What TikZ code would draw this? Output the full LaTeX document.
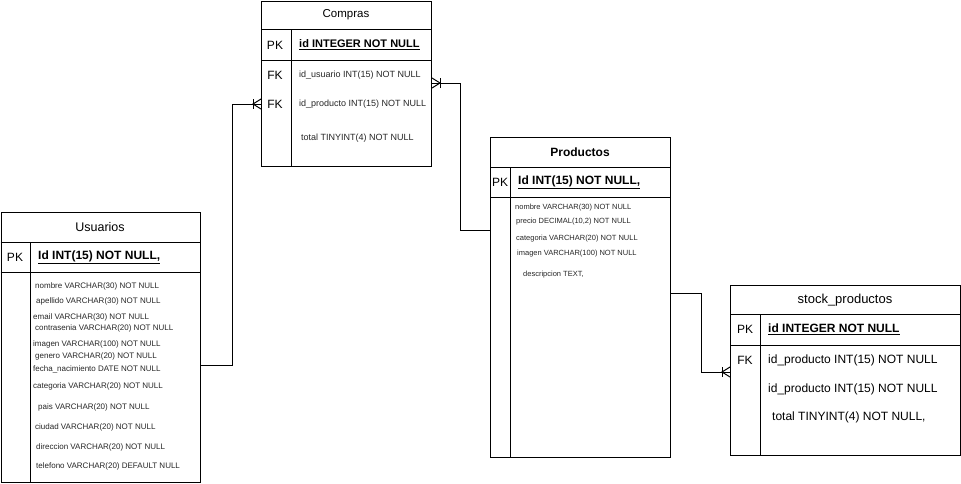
\documentclass[tikz,border=0pt]{standalone}
\usepackage{fontspec}
\setmainfont{Liberation Sans}
\begin{document}
\begin{tikzpicture}[x=1pt,y=-1pt,
  tbl/.style={draw, line width=1pt, rectangle, inner sep=0pt, anchor=north west},
  sep/.style={line width=1pt},
  ttl/.style={font=\fontsize{12}{14}\selectfont\bfseries, inner sep=0pt},
  ttlr/.style={font=\fontsize{#1}{14}\selectfont, inner sep=0pt},
  keyl/.style={font=\fontsize{12}{14}\selectfont, inner sep=0pt},
  pkf/.style={font=\fontsize{#1}{14}\selectfont\bfseries, inner sep=0pt, anchor=west},
  fu/.style={font=\fontsize{8}{9}\selectfont, text=black!85, inner sep=0pt, anchor=west},
  fc/.style={font=\fontsize{9}{10}\selectfont, text=black!85, inner sep=0pt, anchor=west},
  fp/.style={font=\fontsize{7.5}{9}\selectfont, text=black!85, inner sep=0pt, anchor=west},
  fs/.style={font=\fontsize{12}{14}\selectfont, inner sep=0pt, anchor=west},
  conn/.style={line width=1pt},
  many/.pic={\draw[line width=1pt] (0,-5) -- (-8,0) -- (0,5); \draw[line width=1pt] (-8,-5) -- (-8,5);}
]
\useasboundingbox (0,0) rectangle (961,483);

% ---------- Usuarios ----------
\node[tbl, minimum width=199.5pt, minimum height=270pt] (usu) at (0.5,212) {};
\draw[sep] (0.5,242) -- (200,242);
\draw[sep] (0.5,272) -- (200,272);
\draw[sep] (30,242) -- (30,482);
\node[ttlr=12.5] (usuT) at (100,227) {Usuarios};
\node[keyl] (usuPK) at (15,257) {PK};
\node[pkf=12] (usuId) at (38,257) {\underline{Id INT(15) NOT NULL,}};
\node[fu] (u1) at (35,286) {nombre VARCHAR(30) NOT NULL};
\node[fu] (u2) at (36,301) {apellido VARCHAR(30) NOT NULL};
\node[fu] (u3) at (33,317) {email VARCHAR(30) NOT NULL};
\node[fu] (u4) at (35,328) {contrasenia VARCHAR(20) NOT NULL};
\node[fu] (u5) at (33,344) {imagen VARCHAR(100) NOT NULL};
\node[fu] (u6) at (35,356) {genero VARCHAR(20) NOT NULL};
\node[fu] (u7) at (33,369) {fecha\_nacimiento DATE NOT NULL};
\node[fu] (u8) at (33,386) {categoria VARCHAR(20) NOT NULL};
\node[fu] (u9) at (38,407) {pais VARCHAR(20) NOT NULL};
\node[fu] (u10) at (35,427) {ciudad VARCHAR(20) NOT NULL};
\node[fu] (u11) at (36,447) {direccion VARCHAR(20) NOT NULL};
\node[fu] (u12) at (36,466) {telefono VARCHAR(20) DEFAULT NULL};

% ---------- Compras ----------
\node[tbl, minimum width=170pt, minimum height=165pt] (com) at (261,1) {};
\draw[sep] (261,29) -- (431,29);
\draw[sep] (261,60.5) -- (431,60.5);
\draw[sep] (291,29) -- (291,166);
\node[ttlr=11.5] (comT) at (346,15) {Compras};
\node[keyl] (comPK) at (275,45) {PK};
\node[pkf=11] (comId) at (299,45) {\underline{id INTEGER NOT NULL}};
\node[keyl] (comFK1) at (275,75) {FK};
\node[keyl] (comFK2) at (275,104) {FK};
\node[fc] (c1) at (299,75) {id\_usuario INT(15) NOT NULL};
\node[fc] (c2) at (299,104) {id\_producto INT(15) NOT NULL};
\node[fc] (c3) at (301,138) {total TINYINT(4) NOT NULL};

% ---------- Productos ----------
\node[tbl, minimum width=180pt, minimum height=320pt] (pro) at (490,137) {};
\draw[sep] (490,167) -- (670,167);
\draw[sep] (490,197) -- (670,197);
\draw[sep] (510,167) -- (510,457);
\node[ttl] (proT) at (580,152) {Productos};
\node[keyl] (proPK) at (500,182) {PK};
\node[pkf=12] (proId) at (518,182) {\underline{Id INT(15) NOT NULL,}};
\node[fp] (p1) at (515,208) {nombre VARCHAR(30) NOT NULL};
\node[fp] (p2) at (516,222) {precio DECIMAL(10,2) NOT NULL};
\node[fp] (p3) at (516,239) {categoria VARCHAR(20) NOT NULL};
\node[fp] (p4) at (517,254) {imagen VARCHAR(100) NOT NULL};
\node[fp] (p5) at (523,275) {descripcion TEXT,};

% ---------- stock_productos ----------
\node[tbl, minimum width=230pt, minimum height=170pt] (sto) at (730,285) {};
\draw[sep] (730,314) -- (960,314);
\draw[sep] (730,345) -- (960,345);
\draw[sep] (760,314) -- (760,455);
\node[ttlr=13] (stoT) at (845,300) {stock\_productos};
\node[keyl] (stoPK) at (745,329) {PK};
\node[pkf=12] (stoId) at (768,329) {\underline{id INTEGER NOT NULL}};
\node[keyl] (stoFK) at (745,360) {FK};
\node[fs] (s1) at (768,360) {id\_producto INT(15) NOT NULL};
\node[fs] (s2) at (768,389) {id\_producto INT(15) NOT NULL};
\node[fs] (s3) at (772,417) {total TINYINT(4) NOT NULL,};

% ---------- connectors ----------
\coordinate (usuOut) at (usu.east |- 0,365);
\coordinate (comIn1) at (com.west |- 0,104);
\coordinate (proOutL) at (pro.west |- 0,230);
\coordinate (comIn2) at (com.east |- 0,83);
\coordinate (proOutR) at (pro.east |- 0,293);
\coordinate (stoIn) at (sto.west |- 0,372);

\draw[conn] (usuOut) -- ++(31,0) |- (comIn1);
\pic at (comIn1) {many};
\draw[conn] (proOutL) -- ++(-30,0) |- (comIn2);
\pic[rotate=180] at (comIn2) {many};
\draw[conn] (proOutR) -- ++(30,0) |- (stoIn);
\pic at (stoIn) {many};
\end{tikzpicture}
\end{document}
